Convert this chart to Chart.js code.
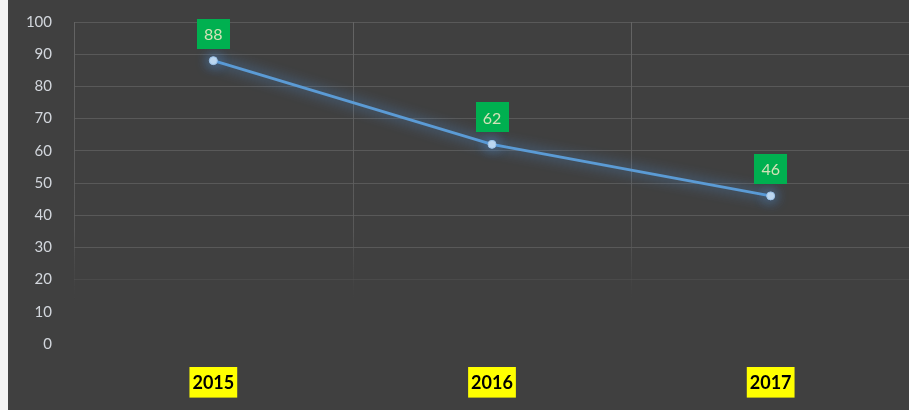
<!DOCTYPE html>
<html><head><meta charset="utf-8">
<script src="https://cdn.jsdelivr.net/npm/chart.js@4"></script>
<style>
html,body{margin:0;padding:0;background:#f2f2f2;width:909px;height:410px;overflow:hidden}
#wrap{position:absolute;left:8px;top:0;width:901px;height:410px;background:#404040;overflow:hidden}
#c{position:absolute;left:0;top:0}
</style></head><body>
<div id="wrap"><canvas id="c" width="907" height="410"></canvas></div>
<script>
const categories = ['2015','2016','2017'];
const values = [88, 62, 46];
const yTicks = [0,10,20,30,40,50,60,70,80,90,100];

const glow = {
  id:'glow',
  beforeDatasetsDraw(chart){ const c=chart.ctx; c.save(); c.shadowColor='rgba(80,150,225,1)'; c.shadowBlur=13; },
  afterDatasetsDraw(chart){ chart.ctx.restore(); }
};
const vgrid = {
  id:'vgrid',
  beforeDatasetsDraw(chart){
    const c=chart.ctx, x=chart.scales.x, y=chart.scales.y;
    const top=y.getPixelForValue(100), bot=y.getPixelForValue(14);
    const g=c.createLinearGradient(0,top,0,bot);
    g.addColorStop(0,'rgba(100,100,100,1)');
    g.addColorStop(0.75,'rgba(95,95,95,0.8)');
    g.addColorStop(1,'rgba(80,80,80,0)');
    c.save(); c.strokeStyle=g; c.lineWidth=1;
    const n=categories.length;
    for(let i=0;i<n;i++){
      const px=Math.round(x.getPixelForValue(i)-(x.getPixelForValue(1)-x.getPixelForValue(0))/2)+0.5;
      c.beginPath(); c.moveTo(px,top); c.lineTo(px,bot); c.stroke();
    }
    c.restore();
  }
};
const labels = {
  id:'labels',
  afterDatasetsDraw(chart){
    const c=chart.ctx, meta=chart.getDatasetMeta(0);
    c.save();
    meta.data.forEach((pt,i)=>{
      const cx=pt.x, cy=pt.y-27, w=33, h=30;
      c.fillStyle='#00B050'; c.fillRect(Math.round(cx-w/2),Math.round(cy-h/2),w,h);
      c.fillStyle='#d2e2b8'; c.font='16px Lato, "Open Sans", sans-serif';
      c.textAlign='center'; c.textBaseline='middle';
      c.fillText(String(values[i]),cx,cy+1);
    });
    c.restore();
  }
};
function noPad(s){s.paddingTop=0;s.paddingBottom=0;s.paddingLeft=0;s.paddingRight=0;}

new Chart(document.getElementById('c'),{
  type:'line',
  data:{labels:categories,datasets:[{data:values,borderColor:'#5B9BD5',borderWidth:3,
    pointRadius:4,pointBackgroundColor:'#c5dcf2',pointBorderColor:'#9cc3ea',pointBorderWidth:1,tension:0}]},
  options:{
    responsive:false,animation:false,
    layout:{padding:{top:22,right:0,left:0,bottom:0}},
    plugins:{legend:{display:false},tooltip:{enabled:false}},
    scales:{
      x:{offset:true,grid:{display:false},border:{display:false},
        afterFit(s){s.height=66;noPad(s);},
        ticks:{color:'#000',padding:20,font:{size:18,weight:'bold',family:'Lato, "Open Sans", sans-serif'},
          showLabelBackdrop:true,backdropColor:'#FFFF00',backdropPadding:{top:5,bottom:4,left:3,right:3}}},
      y:{min:0,max:100,afterFit(s){s.width=66;noPad(s);},
        afterBuildTicks(s){s.ticks=yTicks.map(v=>({value:v}));},
        border:{display:false},
        grid:{drawTicks:false,lineWidth:1,color(ctx){const v=ctx.tick.value; if(v>=30) return '#595959'; if(v===20) return '#4a4a4a'; return 'rgba(0,0,0,0)';}},
        ticks:{color:'#d2d6dc',padding:22,font:{size:15,family:'Lato, "Open Sans", sans-serif'}}}
    }
  },
  plugins:[vgrid,glow,labels]
});
</script></body></html>
